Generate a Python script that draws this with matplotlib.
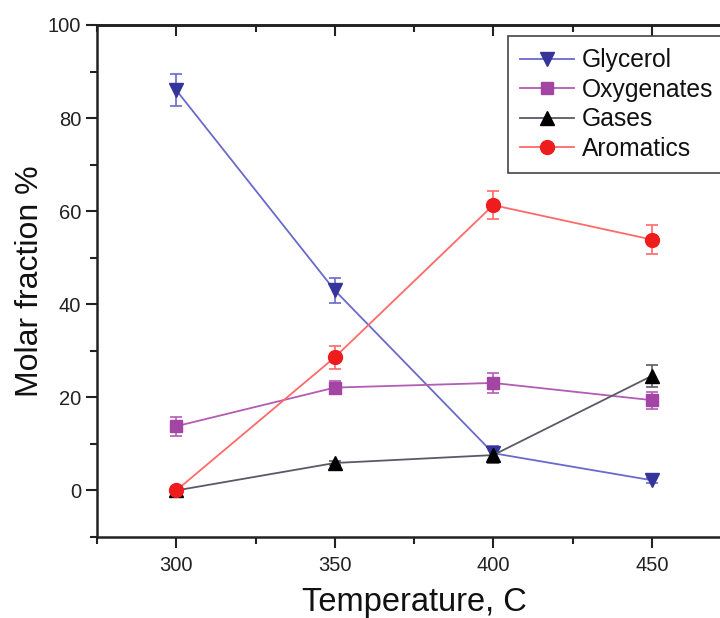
import matplotlib
matplotlib.use("Agg")
import matplotlib.pyplot as plt
from matplotlib.ticker import MultipleLocator
from matplotlib.lines import Line2D

plt.rcParams['font.family'] = ['Liberation Sans', 'DejaVu Sans']

temperature = [300, 350, 400, 450]
glycerol = [86.0, 43.0, 8.0, 2.2]
glycerol_err = [3.4, 2.7, 1.5, 0.5]
oxygenates = [13.8, 22.1, 23.1, 19.4]
oxygenates_err = [2.0, 1.4, 2.2, 1.8]
gases = [0.0, 5.9, 7.6, 24.6]
gases_err = [0.3, 0.5, 1.8, 2.3]
aromatics = [0.0, 28.6, 61.3, 53.9]
aromatics_err = [0.3, 2.4, 3.0, 3.1]

series = [
    ("Glycerol", glycerol, glycerol_err, "#6a6acb", "#34349a", "v", 10),
    ("Oxygenates", oxygenates, oxygenates_err, "#b35cb3", "#a346a3", "s", 9),
    ("Gases", gases, gases_err, "#5a5a66", "#000000", "^", 10),
    ("Aromatics", aromatics, aromatics_err, "#ff6a6a", "#ee1c1c", "o", 10),
]

fig = plt.figure(figsize=(7.2, 6.18), dpi=100)
ax = fig.add_axes([97/720, (618-537)/618, (731-97)/720, (537-25)/618])

handles = []
for name, vals, errs, lc, mc, mk, ms in series:
    ax.errorbar(temperature, vals, yerr=errs, color=lc, ecolor=lc, elinewidth=1.2,
                capsize=4, capthick=1.2, lw=1.3, marker=mk, markersize=ms,
                markerfacecolor=mc, markeredgecolor=mc, clip_on=False, zorder=3)
    handles.append(Line2D([], [], color=lc, lw=1.3, marker=mk, markersize=ms,
                          markerfacecolor=mc, markeredgecolor=mc, label=name))

ax.set_xlim(275, 475)
ax.set_ylim(-10, 100)
ax.xaxis.set_major_locator(MultipleLocator(50))
ax.xaxis.set_minor_locator(MultipleLocator(25))
ax.yaxis.set_major_locator(MultipleLocator(20))
ax.yaxis.set_minor_locator(MultipleLocator(10))
ax.tick_params(which='both', direction='out', top=False, right=False, width=1.5,
               colors='#222222', labelsize=14.5)
ax.tick_params(axis='x', which='major', pad=6)
ax.tick_params(which='major', length=8)
ax.tick_params(which='minor', length=5)
for s in ax.spines.values():
    s.set_linewidth(1.8)
    s.set_color('#222222')

secx = ax.secondary_xaxis('top')
secx.xaxis.set_major_locator(MultipleLocator(50))
secx.xaxis.set_minor_locator(MultipleLocator(25))
secx.tick_params(which='both', direction='in', labeltop=False, width=1.5, colors='#222222')
secx.tick_params(which='major', length=8)
secx.tick_params(which='minor', length=5)
secx.spines['top'].set_linewidth(1.8)

secy = ax.secondary_yaxis('right')
secy.yaxis.set_major_locator(MultipleLocator(20))
secy.yaxis.set_minor_locator(MultipleLocator(10))
secy.tick_params(which='both', direction='in', labelright=False, width=1.5, colors='#222222')
secy.tick_params(which='major', length=8)
secy.tick_params(which='minor', length=5)

ax.set_xlabel("Temperature, C", fontsize=23.5, color='#111111', labelpad=8)
ax.set_ylabel("Molar fraction %", fontsize=23, color='#111111', labelpad=2)

leg = ax.legend(handles=handles, loc='upper left', bbox_to_anchor=(508/720, 1-36/618),
                bbox_transform=fig.transFigure, borderaxespad=0, fancybox=False,
                fontsize=17.7, handlelength=2.2, handletextpad=0.3, labelspacing=0.22,
                borderpad=0.5, edgecolor='#444444', framealpha=1)
leg.get_frame().set_linewidth(1.2)
for t in leg.get_texts():
    t.set_color('#111111')

fig.savefig("out.png", dpi=100)
